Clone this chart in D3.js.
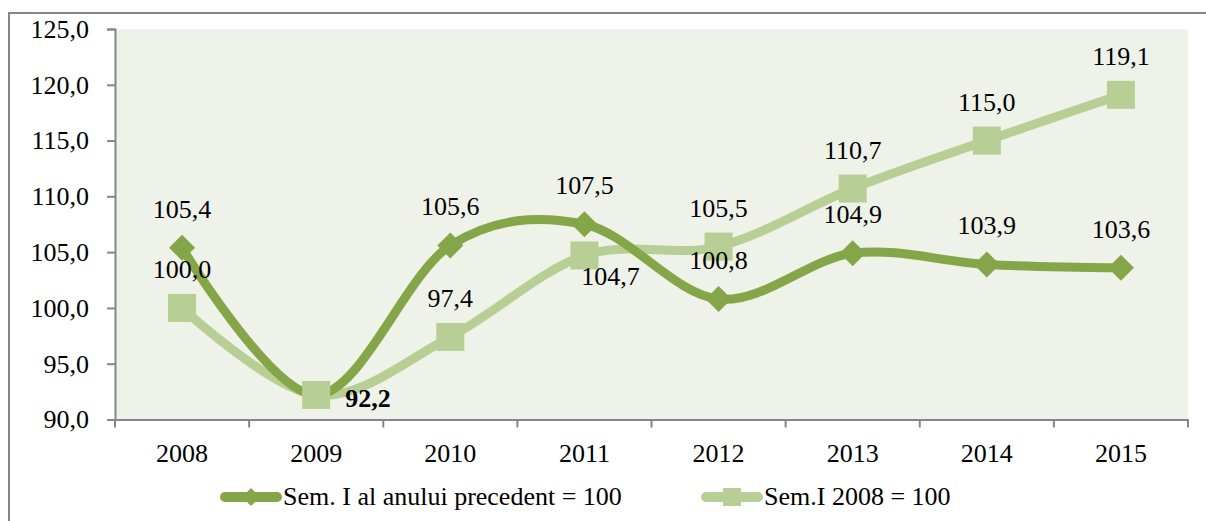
<!DOCTYPE html>
<html lang='en'>
<head>
<meta charset='UTF-8'>
<script src='https://d3js.org/d3.v7.min.js'></script>
<title>Sem. I indices</title>
<style>
  body { margin: 0; background: #fff; }
  text { font-family: 'Liberation Serif', serif; font-size: 26px; fill: #000; }
</style>
</head>
<body>
<svg id='chart' width='1206' height='521'></svg>
<script>
// data
const years = ['2008', '2009', '2010', '2011', '2012', '2013', '2014', '2015']
const semPrev = [105.4, 92.2, 105.6, 107.5, 100.8, 104.9, 103.9, 103.6]   // Sem. I al anului precedent = 100
const sem2008 = [100.0, 92.2, 97.4, 104.7, 105.5, 110.7, 115.0, 119.1]   // Sem.I 2008 = 100
const yTicks = [90, 95, 100, 105, 110, 115, 120, 125]
const prevLabelPos = ['above', 'right', 'above', 'above', 'above', 'above', 'above', 'above']
const base08LabelPos = ['above', 'none', 'above', 'belowRight', 'above', 'above', 'above', 'above']
const legendNames = ['Sem. I al anului precedent = 100', 'Sem.I 2008 = 100']

;(function () {
const dark = '#84A548', light = '#B7CE94', axisCol = '#868686'
const svg = d3.select('#chart')

const plotL = 115, plotR = 1188, plotT = 29, plotB = 419.5

let x = d3.scaleBand().domain(years).range([plotL, plotR])
let y = d3.scaleLinear().domain([90, 125]).range([plotB, plotT])
let cx = d => x(d) + x.bandwidth() / 2
let fmt = v => d3.format('.1f')(v).replace('.', ',')

// outer chart border
svg.append('rect').attr('x', 9).attr('y', 13).attr('width', 1210).attr('height', 520)
  .style('fill', 'none').style('stroke', axisCol).style('stroke-width', 2)

// plot area
svg.append('rect').attr('x', plotL).attr('y', plotT).attr('width', plotR - plotL).attr('height', plotB - plotT)
  .style('fill', '#EFF2E9')

// y axis
let yAxis = svg.append('g').attr('transform', `translate(${plotL},0)`)
  .call(d3.axisLeft(y).tickValues(yTicks).tickSize(8).tickPadding(18).tickFormat(fmt))
yAxis.select('.domain').attr('stroke', axisCol).attr('stroke-width', 2)
yAxis.selectAll('line').attr('stroke', axisCol).attr('stroke-width', 2)
yAxis.selectAll('text').attr('font-family', null).attr('font-size', null)
yAxis.attr('font-family', null).attr('font-size', null)

// x axis, ticks on category boundaries
let xAxis = svg.append('g').attr('transform', `translate(0,${plotB})`)
  .call(d3.axisBottom(x).tickSize(0).tickPadding(24))
xAxis.attr('font-family', null).attr('font-size', null)
xAxis.select('.domain').attr('stroke', axisCol).attr('stroke-width', 2)
xAxis.selectAll('.bound')
  .data(years.concat(['end']))
  .enter().append('line')
    .attr('x1', (d, i) => i < years.length ? x(d) : plotR)
    .attr('x2', (d, i) => i < years.length ? x(d) : plotR)
    .attr('y1', 0).attr('y2', 8)
    .attr('stroke', axisCol).attr('stroke-width', 2)

// smoothed lines
let line = d3.line().x((d, i) => cx(years[i])).y(d => y(d)).curve(d3.curveCardinal.tension(0))

svg.append('path').datum(sem2008).attr('d', line)
  .style('fill', 'none').style('stroke', light).style('stroke-width', 9).style('stroke-linejoin', 'round')
svg.append('path').datum(semPrev).attr('d', line)
  .style('fill', 'none').style('stroke', dark).style('stroke-width', 9).style('stroke-linejoin', 'round')

// markers
let diamond = s => `M0,${-s}L${s},0L0,${s}L${-s},0Z`
svg.selectAll('.dia')
  .data(semPrev)
  .enter().append('path')
    .attr('d', diamond(13))
    .attr('transform', (d, i) => `translate(${cx(years[i])},${y(d)})`)
    .style('fill', dark)
svg.selectAll('.sq')
  .data(sem2008)
  .enter().append('rect')
    .attr('x', (d, i) => cx(years[i]) - 14)
    .attr('y', d => y(d) - 14)
    .attr('width', 28).attr('height', 28)
    .style('fill', light)

// data labels
function addLabels(values, pos) {
  values.forEach((v, i) => {
    let px = cx(years[i]), py = y(v), p = pos[i]
    if (p === 'none') return
    let t = svg.append('text').text(fmt(v))
    if (p === 'above') t.attr('x', px).attr('y', py - 30).attr('text-anchor', 'middle')
    if (p === 'belowRight') t.attr('x', px + 26).attr('y', py + 30).attr('text-anchor', 'middle')
    if (p === 'right') t.attr('x', px + 29).attr('y', py + 12).style('font-weight', 'bold')
  })
}
addLabels(semPrev, prevLabelPos)
addLabels(sem2008, base08LabelPos)

// legend
let legendX = [221, 702], legendCol = [dark, light]
let lg = svg.selectAll('.legend')
  .data(legendNames)
  .enter().append('g')
    .attr('transform', (d, i) => `translate(${legendX[i]},497)`)
lg.append('line').attr('x1', 4).attr('x2', 56).attr('y1', 0).attr('y2', 0)
  .style('stroke', (d, i) => legendCol[i]).style('stroke-width', 10).style('stroke-linecap', 'round')
lg.filter((d, i) => i === 0).append('path').attr('d', diamond(9)).attr('transform', 'translate(30,0)').style('fill', dark)
lg.filter((d, i) => i === 1).append('rect').attr('x', 21).attr('y', -9).attr('width', 18).attr('height', 18).style('fill', light)
lg.append('text').attr('x', 62).attr('y', 8).text(d => d)
})()
</script>
</body>
</html>
